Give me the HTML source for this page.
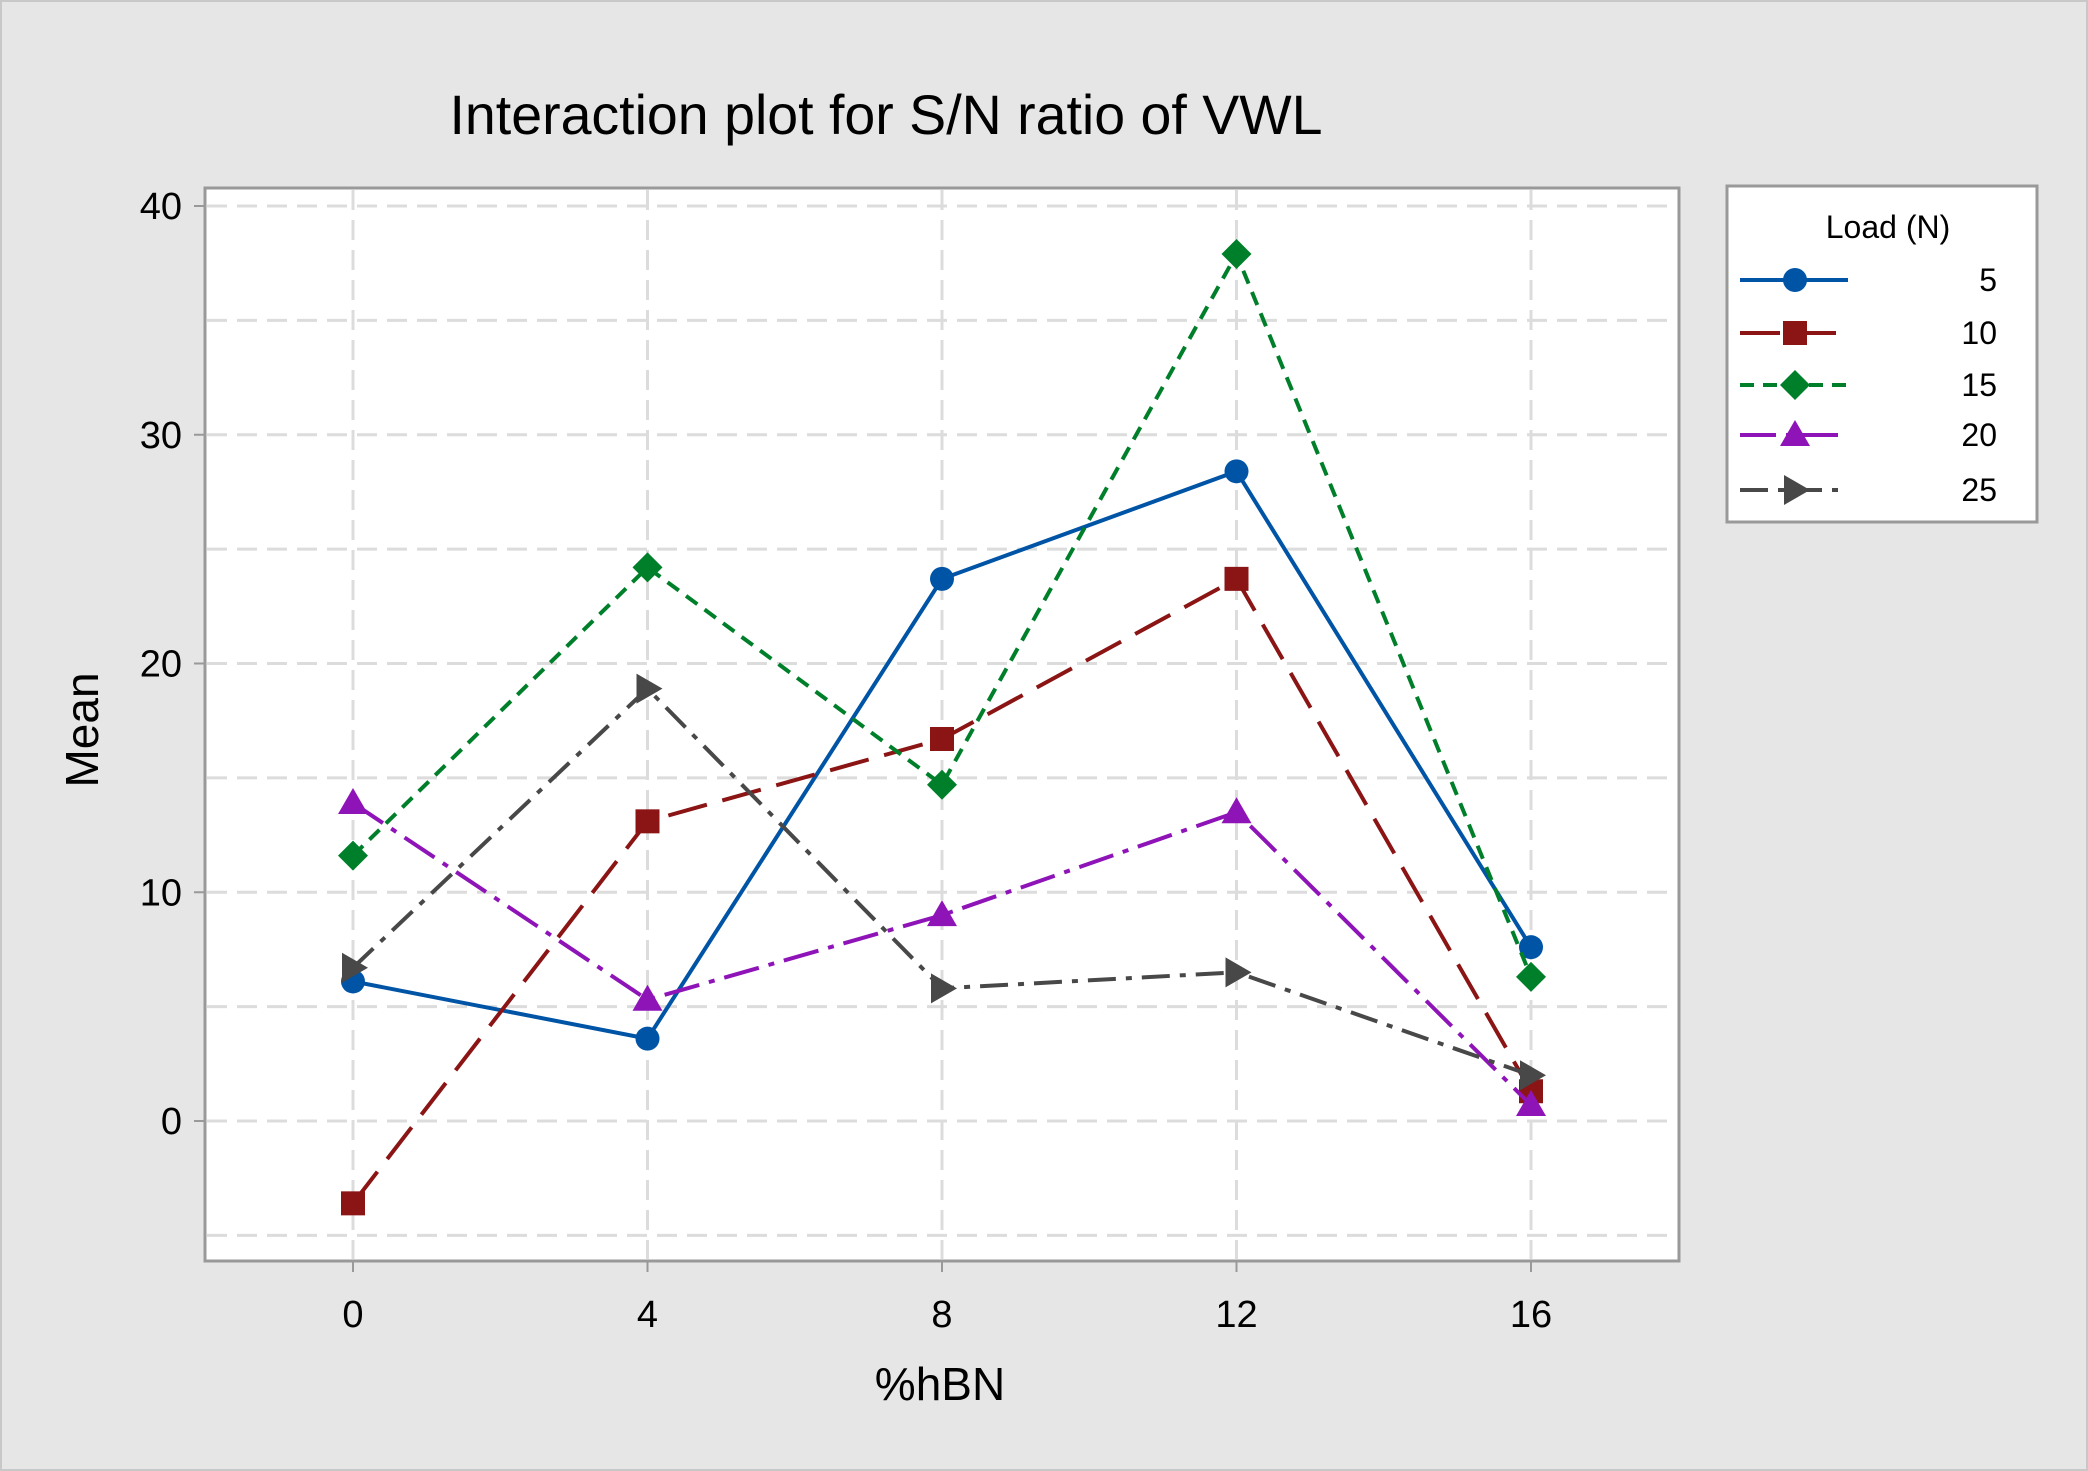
<!DOCTYPE html>
<html><head><meta charset="utf-8"><style>
body{margin:0;background:#e6e6e6;}
svg{display:block;font-family:"Liberation Sans",sans-serif;}
</style></head><body>
<svg id="chart" width="2088" height="1471">
<rect x="1" y="1" width="2086" height="1469" fill="#e6e6e6" stroke="#c8c8c8" stroke-width="2"/>
<text x="886" y="134" font-size="55.5" text-anchor="middle">Interaction plot for S/N ratio of VWL</text>
<rect x="205" y="188" width="1474" height="1073" fill="#fff"/>
<g id="grid"></g><g id="series"></g>
<rect x="205" y="188" width="1474" height="1073" fill="none" stroke="#999" stroke-width="3"/>
<g id="axes"></g>
<text x="940" y="1400" font-size="46" text-anchor="middle">%hBN</text>
<text x="0" y="0" font-size="46" text-anchor="middle" transform="translate(98,730) rotate(-90)">Mean</text>
<rect x="1727" y="186" width="310" height="336" fill="#fff" stroke="#999" stroke-width="3"/>
<text x="1888" y="238" font-size="32" text-anchor="middle">Load (N)</text>
<g id="legend"></g>
</svg>
<script>
const xCats=[0,4,8,12,16];
const seriesNames=["5","10","15","20","25"];
const s5=[6.1,3.6,23.7,28.4,7.6];
const s10=[-3.6,13.1,16.7,23.7,1.3];
const s15=[11.6,24.2,14.7,37.9,6.3];
const s20=[13.9,5.3,9.0,13.5,0.7];
const s25=[6.7,18.9,5.8,6.5,2.0];
const yTicks=[0,10,20,30,40];
const yGrid=[-5,0,5,10,15,20,25,30,35,40];
const NS="http://www.w3.org/2000/svg";
function X(v){return 353+(v-0)*(1531-353)/16;}
function Y(v){return 1121-v*(1121-206)/40;}
function mk(tag,attrs,parent){const e=document.createElementNS(NS,tag);for(const k in attrs)e.setAttribute(k,attrs[k]);parent.appendChild(e);return e;}
const grid=document.getElementById('grid'),axes=document.getElementById('axes'),ser=document.getElementById('series'),leg=document.getElementById('legend');
yGrid.forEach(v=>{const l=mk('line',{x1:207,x2:1677,y1:Y(v),y2:Y(v),stroke:'#dcdcdc','stroke-width':3,'stroke-dasharray':'20 10'},grid);

});
xCats.forEach(v=>{const l=mk('line',{x1:X(v),x2:X(v),y1:190,y2:1259,stroke:'#dcdcdc','stroke-width':3,'stroke-dasharray':'20 10'},grid);


const t=mk('line',{x1:X(v),x2:X(v),y1:1261,y2:1272,stroke:'#999','stroke-width':2},axes);


const tx=mk('text',{x:X(v),y:1327,'font-size':38,'text-anchor':'middle'},axes);tx.textContent=v;

});
yTicks.forEach(v=>{const t=mk('line',{x1:194,x2:205,y1:Y(v),y2:Y(v),stroke:'#999','stroke-width':2},axes);


const tx=mk('text',{x:182,y:Y(v)+13,'font-size':38,'text-anchor':'end'},axes);tx.textContent=v;

});
const styles=[{c:'#0054a6',d:'none',m:'circle'},{c:'#8b1414',d:'40 16',m:'square'},{c:'#007f2a',d:'14 9',m:'diamond'},{c:'#8e14b8',d:'36 10 6 10',m:'triangle'},{c:'#484848',d:'28 10 6 10',m:'arrow'}];
const data=[s5,s10,s15,s20,s25];
function marker(type,x,y,c,parent){let e;
if(type==='circle')e=mk('circle',{cx:x,cy:y,r:12,fill:c},parent);
else if(type==='square')e=mk('rect',{x:x-12,y:y-12,width:24,height:24,fill:c},parent);
else if(type==='diamond')e=mk('polygon',{points:`${x},${y-15} ${x+15},${y} ${x},${y+15} ${x-15},${y}`,fill:c},parent);
else if(type==='triangle')e=mk('polygon',{points:`${x},${y-15} ${x+15},${y+11} ${x-15},${y+11}`,fill:c},parent);
else e=mk('polygon',{points:`${x-11},${y-15} ${x+15},${y} ${x-11},${y+15}`,fill:c},parent);
return e;}
data.forEach((arr,i)=>{const st=styles[i];
const pts=arr.map((v,j)=>X(xCats[j])+','+Y(v)).join(' ');
const pl=mk('polyline',{points:pts,fill:'none',stroke:st.c,'stroke-width':4,'stroke-dasharray':st.d},ser);


arr.forEach((v,j)=>{const m=marker(st.m,X(xCats[j]),Y(v),st.c,ser);

});
const ly=[280,333,385,435,490][i];
const ll=mk('line',{x1:1740,x2:1848,y1:ly,y2:ly,stroke:st.c,'stroke-width':4,'stroke-dasharray':st.d},leg);


const lm=marker(st.m,1795,ly,st.c,leg);


const lt=mk('text',{x:1997,y:ly+11,'font-size':32,'text-anchor':'end'},leg);lt.textContent=seriesNames[i];

});
</script>
</body></html>
